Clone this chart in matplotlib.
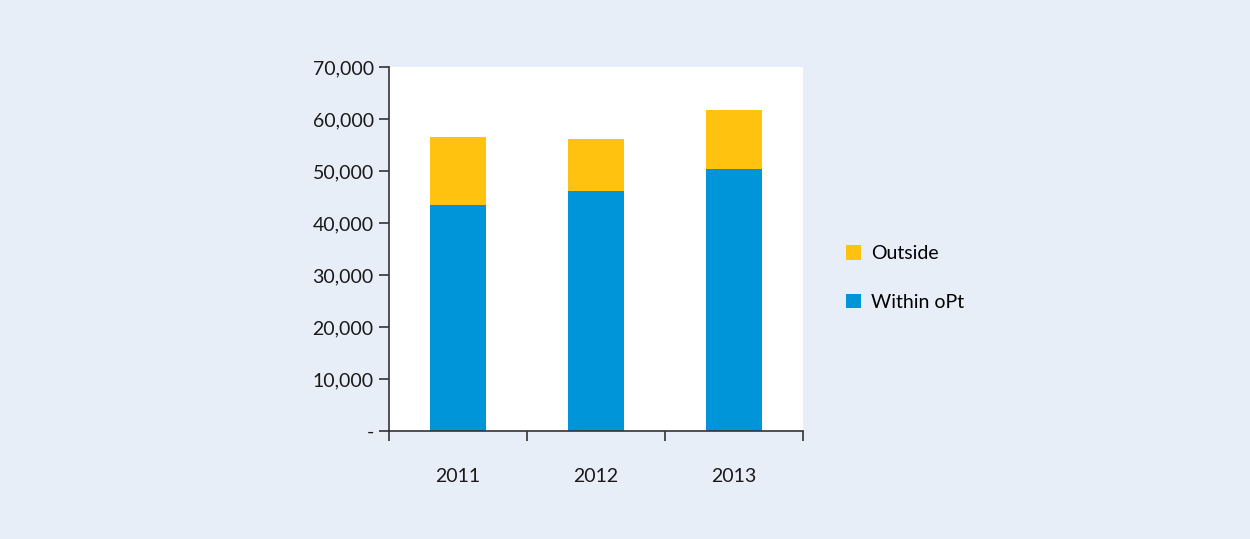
import matplotlib
matplotlib.use("Agg")
import matplotlib.pyplot as plt
import numpy as np

years = ["2011", "2012", "2013"]
within_opt = [43450, 46200, 50400]
outside = [13050, 9900, 11300]
series_labels = ["Within oPt", "Outside"]
yticks = [0, 10000, 20000, 30000, 40000, 50000, 60000, 70000]
ytick_labels = ["-", "10,000", "20,000", "30,000", "40,000", "50,000", "60,000", "70,000"]

bg = "#E8EEF8"
c_blue = "#0095D9"
c_orange = "#FFC20E"

plt.rcParams['font.family'] = ['Lato', 'DejaVu Sans']

fig = plt.figure(figsize=(12.5, 5.39), dpi=100, facecolor=bg)
W, H = 1250, 539
ax = fig.add_axes([389 / W, 1 - 431 / H, (803 - 389) / W, (431 - 67) / H])
ax.set_facecolor("white")

x = np.arange(len(years))
b1 = ax.bar(x, within_opt, width=0.4, color=c_blue, label=series_labels[0])
b2 = ax.bar(x, outside, width=0.4, bottom=within_opt, color=c_orange, label=series_labels[1])

ax.set_xlim(-0.5, len(years) - 0.5)
ax.set_ylim(0, 70000)
ax.set_yticks(yticks)
ax.set_yticklabels(ytick_labels, fontsize=14, color="#1a1a1a")
ax.set_xticks(x)
ax.set_xticklabels(years, fontsize=14, color="#1a1a1a")
ax.tick_params(axis="x", length=0, pad=27)
ax.set_xticks(np.arange(-0.5, len(years)), minor=True)
ax.tick_params(axis="x", which="minor", length=7, color="#333333", width=1.2, direction="out")
ax.tick_params(axis="y", length=7, color="#333333", width=1.2, direction="out", pad=4)

for s in ["top", "right"]:
    ax.spines[s].set_visible(False)
for s in ["left", "bottom"]:
    ax.spines[s].set_color("#333333")
    ax.spines[s].set_linewidth(1.2)

handles = [b2, b1]
fig.legend(handles, [series_labels[1], series_labels[0]], loc="center left",
           bbox_to_anchor=(828 / W, 1 - 278 / H), frameon=False, fontsize=14,
           handlelength=0.8, handleheight=0.8, handletextpad=0.5, labelspacing=1.6)

fig.savefig("out.png", dpi=100, facecolor=bg)
